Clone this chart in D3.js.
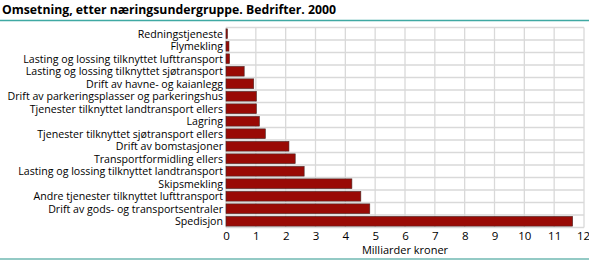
<!DOCTYPE html>
<html>
<head>
<meta charset="utf-8">
<script src="https://cdn.jsdelivr.net/npm/d3@7"></script>
<style>
  body { margin: 0; background: #fff; }
  svg text { font-family: "Open Sans", sans-serif; fill: #000; }
</style>
</head>
<body>
<svg id="chart" width="589" height="261"></svg>
<script>
const categories = [
  "Redningstjeneste",
  "Flymekling",
  "Lasting og lossing tilknyttet lufttransport",
  "Lasting og lossing tilknyttet sjøtransport",
  "Drift av havne- og kaianlegg",
  "Drift av parkeringsplasser og parkeringshus",
  "Tjenester tilknyttet landtransport ellers",
  "Lagring",
  "Tjenester tilknyttet sjøtransport ellers",
  "Drift av bomstasjoner",
  "Transportformidling ellers",
  "Lasting og lossing tilknyttet landtransport",
  "Skipsmekling",
  "Andre tjenester tilknyttet lufttransport",
  "Drift av gods- og transportsentraler",
  "Spedisjon"
];
const values = [0.05, 0.1, 0.12, 0.61, 0.93, 1.02, 1.02, 1.12, 1.32, 2.11, 2.32, 2.62, 4.22, 4.52, 4.82, 11.62];
const xTicks = d3.range(0, 13);

const svg = d3.select("#chart");
const mLeft = 226, mRight = 584, mTop = 27.5, mBottom = 227.5;

// title and rules
const title = svg.append("text")
  .attr("x", 2).attr("y", 14)
  .style("font-size", "13px").style("font-weight", "bold")
  .text("Omsetning, etter næringsundergruppe. Bedrifter. 2000");
// squeeze title to the width of the original
title.attr("textLength", 334).attr("lengthAdjust", "spacingAndGlyphs");

svg.append("line").attr("x1", 0).attr("x2", 589).attr("y1", 20.5).attr("y2", 20.5)
  .attr("stroke", "#3fa9a3").attr("stroke-width", 1.5);
svg.append("line").attr("x1", 0).attr("x2", 589).attr("y1", 259).attr("y2", 259)
  .attr("stroke", "#6fb8b2").attr("stroke-width", 1.5);

const x = d3.scaleLinear().domain([0, 12]).range([mLeft, mRight]);
const y = d3.scaleBand().domain(categories).range([mTop, mBottom]).paddingInner(0.22).paddingOuter(0.11);

// grid
const grid = svg.append("g");
grid.selectAll(".v").data(xTicks).enter().append("line")
  .attr("x1", d => x(d)).attr("x2", d => x(d))
  .attr("y1", mTop).attr("y2", mBottom)
  .attr("stroke", "#d9d9d9").attr("stroke-width", 1.3);
const step = (mBottom - mTop) / categories.length;
grid.selectAll(".h").data(d3.range(categories.length + 1)).enter().append("line")
  .attr("x1", mLeft).attr("x2", mRight)
  .attr("y1", d => mTop + d * step).attr("y2", d => mTop + d * step)
  .attr("stroke", "#d9d9d9").attr("stroke-width", 1.3);

// bars
svg.selectAll(".bar").data(values).enter().append("rect")
  .attr("x", x(0))
  .attr("y", (d, i) => y(categories[i]))
  .attr("width", d => x(d) - x(0))
  .attr("height", y.bandwidth())
  .attr("fill", "#990a05")
  .attr("stroke", "#4a2a28").attr("stroke-width", 0.6);

// category labels, narrowed a bit since the original face is more condensed
const lblScale = 0.95;
svg.selectAll(".lbl").data(categories).enter().append("text")
  .attr("transform", d => `translate(${mLeft - 3},${y(d) + y.bandwidth() / 2}) scale(${lblScale},1)`)
  .attr("dy", "0.36em")
  .attr("text-anchor", "end")
  .style("font-size", "11.2px")
  .text(d => d);

// x axis
const xAxis = d3.axisBottom(x).tickValues(xTicks).tickSize(0).tickPadding(4);
const ax = svg.append("g").attr("transform", `translate(0,${mBottom})`).call(xAxis);
ax.select(".domain").remove();
ax.selectAll("text").style("font-size", "11.5px").attr("fill", "#000");
ax.selectAll(".tick").filter(d => d === 12).select("text").attr("dx", "-1");

svg.append("text")
  .attr("x", x(6)).attr("y", 254)
  .attr("text-anchor", "middle")
  .style("font-size", "11px")
  .text("Milliarder kroner");
</script>
</body>
</html>
